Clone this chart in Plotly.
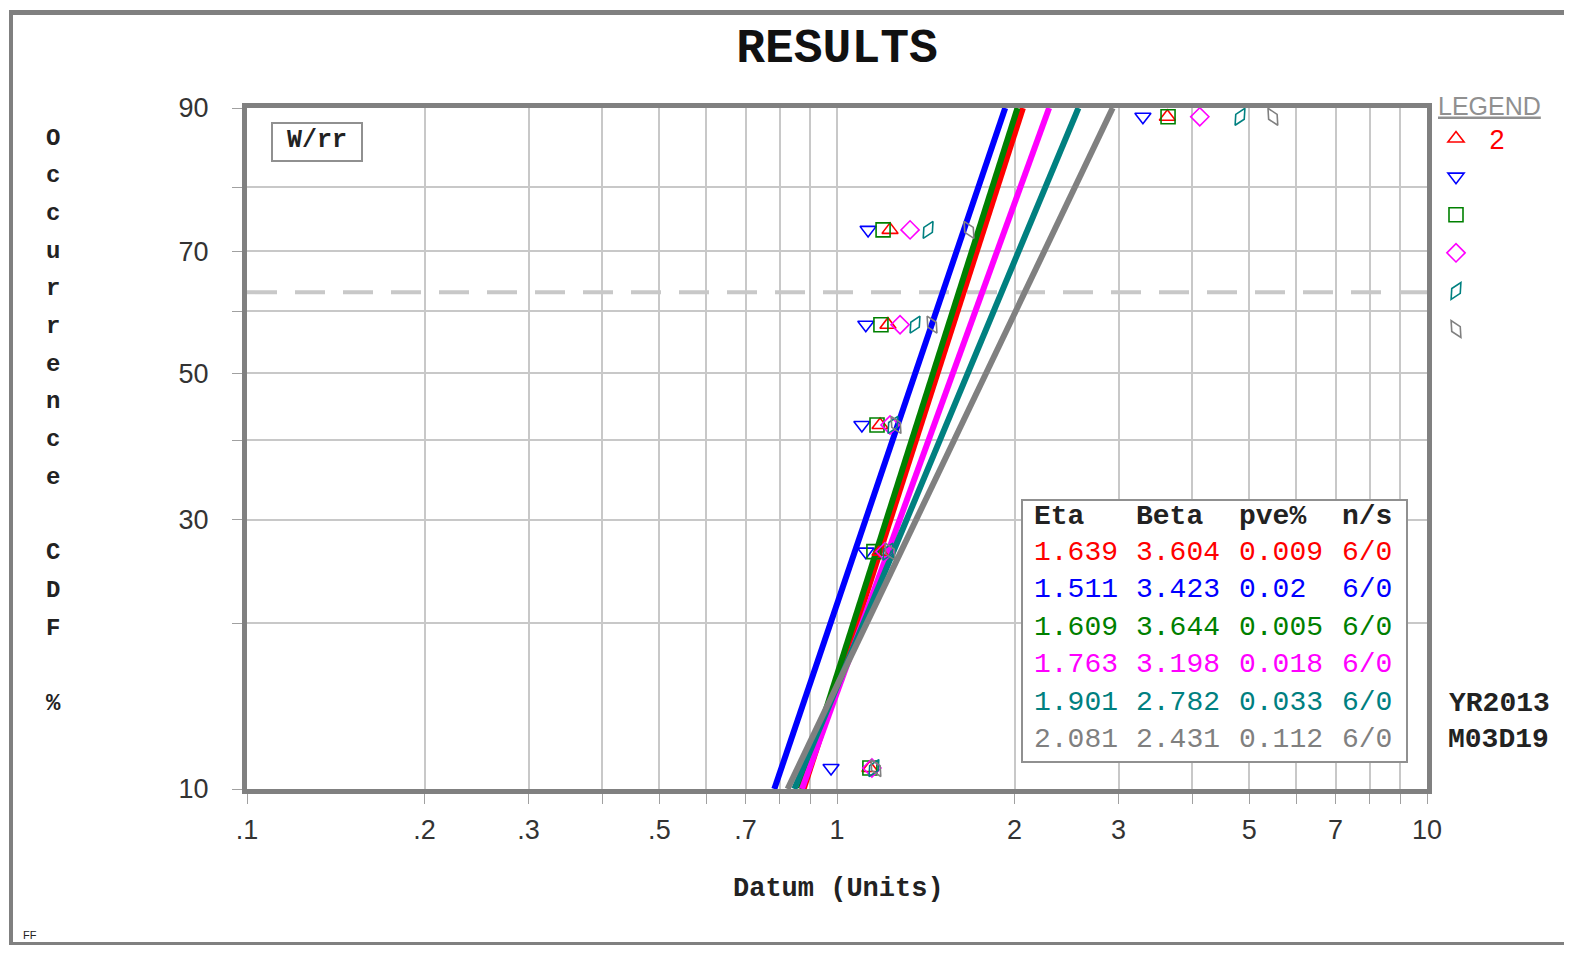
import math
import plotly.graph_objects as go

# ---------------- data ----------------
series_names = ["\u20022", "", "", "", "", ""]
series_colors = ["#ff0000", "#0000ff", "#008000", "#ff00ff", "#008080", "#808080"]
series_symbols = ["triangle-up-open", "triangle-down-open", "square-open",
                  "diamond-open", "diamond-tall-open", "diamond-tall-open"]
series_angles = [0, 0, 0, 0, 30, -30]

rank_pct = [10.94, 26.56, 42.19, 57.81, 73.44, 89.06]
x_red = [1.137, 1.183, 1.183, 1.220, 1.230, 3.63]
x_blue = [0.977, 1.119, 1.102, 1.119, 1.129, 3.30]
x_green = [1.137, 1.155, 1.169, 1.187, 1.197, 3.64]
x_magenta = [1.146, 1.206, 1.230, 1.279, 1.330, 4.12]
x_teal = [1.155, 1.220, 1.244, 1.356, 1.427, 4.82]
x_gray = [1.164, 1.230, 1.259, 1.449, 1.674, 5.48]
series_x = [x_red, x_blue, x_green, x_magenta, x_teal, x_gray]

eta = [1.639, 1.511, 1.609, 1.763, 1.901, 2.081]
beta = [3.604, 3.423, 3.644, 3.198, 2.782, 2.431]
pve = ["0.009", "0.02", "0.005", "0.018", "0.033", "0.112"]
ns = ["6/0", "6/0", "6/0", "6/0", "6/0", "6/0"]
fit_pct = [10, 90]
char_life_pct = 63.2

x_tick_vals = [0.1, 0.2, 0.3, 0.4, 0.5, 0.6, 0.7, 0.8, 0.9, 1, 2, 3, 4, 5, 6, 7, 8, 9, 10]
x_tick_text = [".1", ".2", ".3", "", ".5", "", ".7", "", "", "1", "2", "3", "", "5", "", "7", "", "", "10"]
y_tick_pct = [10, 20, 30, 40, 50, 60, 70, 80, 90]
y_tick_text = ["10", "", "30", "", "50", "", "70", "", "90"]


def wb(p):
    f = p / 100.0
    return math.log(-math.log(1 - f))


# ---------------- geometry helpers (screen px -> paper) ----------------
OFF = 8                      # default page body margin
W, H = 1556, 937
L, R, T, B = 239, 137, 100, 156
PW, PH = W - L - R, H - T - B


def px(x):
    return (x - OFF - L) / PW


def py(y):
    return (H - B - (y - OFF)) / PH


MONO = "Liberation Mono"
SANS = "Liberation Sans"

fig = go.Figure()

# fitted Weibull lines
for i in range(6):
    xs = [eta[i] * (-math.log(1 - p / 100.0)) ** (1 / beta[i]) for p in fit_pct]
    ys = [wb(p) for p in fit_pct]
    fig.add_trace(go.Scatter(x=xs, y=ys, mode="lines",
                             line=dict(color=series_colors[i], width=6),
                             showlegend=False, hoverinfo="skip"))

# data points
for i in range(6):
    fig.add_trace(go.Scatter(
        x=series_x[i], y=[wb(p) for p in rank_pct], mode="markers",
        name=series_names[i],
        marker=dict(symbol=series_symbols[i], color=series_colors[i], size=14,
                    angle=series_angles[i], line=dict(width=1.6, color=series_colors[i])),
        showlegend=True))

shapes = []
shapes.append(dict(type="line", xref="paper", yref="y", x0=0, x1=1,
                   y0=wb(char_life_pct), y1=wb(char_life_pct),
                   line=dict(color="#c8c8c8", width=4, dash="30px,18px"), layer="below"))
shapes.append(dict(type="rect", xref="paper", yref="paper", x0=px(272), x1=px(362),
                   y0=py(161), y1=py(123), line=dict(color="#909090", width=2),
                   fillcolor="white"))
shapes.append(dict(type="rect", xref="paper", yref="paper", x0=px(1022), x1=px(1407),
                   y0=py(762), y1=py(500), line=dict(color="#909090", width=2),
                   fillcolor="white"))
# window frame
shapes.append(dict(type="rect", xref="paper", yref="paper", x0=px(9), x1=px(1572),
                   y0=py(15), y1=py(10), line=dict(width=0), fillcolor="#808080"))
shapes.append(dict(type="rect", xref="paper", yref="paper", x0=px(9), x1=px(13),
                   y0=py(953), y1=py(10), line=dict(width=0), fillcolor="#808080"))
shapes.append(dict(type="rect", xref="paper", yref="paper", x0=px(9), x1=px(1572),
                   y0=py(953), y1=py(942), line=dict(width=0), fillcolor="#808080"))

ann = []
ann.append(dict(text="<b>W/rr</b>", xref="paper", yref="paper", x=px(317), y=py(140),
                xanchor="center", yanchor="middle",
                showarrow=False, font=dict(family=MONO, size=25, color="#222")))
# table
col_x = [1032, 1134, 1237, 1340]
row_y = [516, 552, 589, 627, 664, 702, 739]
header = ["Eta", "Beta", "pve%", "n/s"]
for c in range(4):
    ann.append(dict(text="<b>" + header[c] + "</b>", xref="paper", yref="paper",
                    x=px(col_x[c]), y=py(row_y[0]), xanchor="left", yanchor="middle",
                    showarrow=False, font=dict(family=MONO, size=28, color="#222")))
for i in range(6):
    cells = ["%.3f" % eta[i], "%.3f" % beta[i], pve[i], ns[i]]
    for c in range(4):
        ann.append(dict(text=cells[c], xref="paper", yref="paper",
                        x=px(col_x[c]), y=py(row_y[i + 1]), xanchor="left", yanchor="middle",
                        showarrow=False, font=dict(family=MONO, size=28, color=series_colors[i])))
# vertical y title
ylab = "Occurrence CDF %"
y0 = 138
for k, ch in enumerate(ylab):
    if ch != " ":
        ann.append(dict(text="<b>" + ch + "</b>", xref="paper", yref="paper",
                        x=px(53), y=py(y0 + k * 37.7), xanchor="center", yanchor="middle",
                        showarrow=False, font=dict(family=MONO, size=24, color="#222")))
ann.append(dict(text="<b>Datum (Units)</b>", xref="paper", yref="paper", x=px(838), y=py(889),
                xanchor="center", yanchor="middle",
                showarrow=False, font=dict(family=MONO, size=27, color="#222")))
ann.append(dict(text="<b>YR2013</b>", xref="paper", yref="paper", x=px(1447), y=py(703),
                xanchor="left", yanchor="middle", showarrow=False,
                font=dict(family=MONO, size=28, color="#222")))
ann.append(dict(text="<b>M03D19</b>", xref="paper", yref="paper", x=px(1446), y=py(739),
                xanchor="left", yanchor="middle", showarrow=False,
                font=dict(family=MONO, size=28, color="#222")))
ann.append(dict(text="FF", xref="paper", yref="paper", x=px(21), y=py(935),
                xanchor="left", yanchor="middle", showarrow=False,
                font=dict(family=SANS, size=11, color="#222")))

fig.update_layout(
    width=W, height=H, autosize=False,
    margin=dict(l=L, r=R, t=T, b=B, pad=0, autoexpand=False),
    paper_bgcolor="white", plot_bgcolor="white",
    title=dict(text="<b>RESULTS</b>", x=px(837), xref="paper", xanchor="center",
               y=1 - (45 - OFF) / H, yref="container", yanchor="middle",
               font=dict(family=MONO, size=48, color="#111")),
    xaxis=dict(type="log", range=[-1, 1], tickvals=x_tick_vals, ticktext=x_tick_text,
               showgrid=True, gridcolor="#c8c8c8", gridwidth=1.5,
               showline=True, linecolor="#808080", linewidth=5, mirror=True,
               ticks="outside", ticklen=10, tickcolor="#a0a0a0", tickwidth=1,
               ticklabelstandoff=3,
               tickfont=dict(family=SANS, size=27, color="#333"), zeroline=False),
    yaxis=dict(range=[wb(10), wb(90)], tickvals=[wb(p) for p in y_tick_pct], ticktext=y_tick_text,
               showgrid=True, gridcolor="#c8c8c8", gridwidth=1.5,
               showline=True, linecolor="#808080", linewidth=5, mirror=True,
               ticks="outside", ticklen=10, tickcolor="#a0a0a0", tickwidth=1,
               ticklabelstandoff=18,
               tickfont=dict(family=SANS, size=27, color="#333"), zeroline=False),
    legend=dict(xref="container", yref="container", x=(1436 - OFF) / W, y=1 - (82 - OFF) / H,
                xanchor="left", yanchor="top", bgcolor="rgba(0,0,0,0)",
                title=dict(text="<u>LEGEND</u>", font=dict(family=SANS, size=25, color="#909090")),
                font=dict(family=SANS, size=27, color="#ff0000"), tracegroupgap=0),
    shapes=shapes, annotations=ann, showlegend=True,
)

fig.write_html("out.html")
